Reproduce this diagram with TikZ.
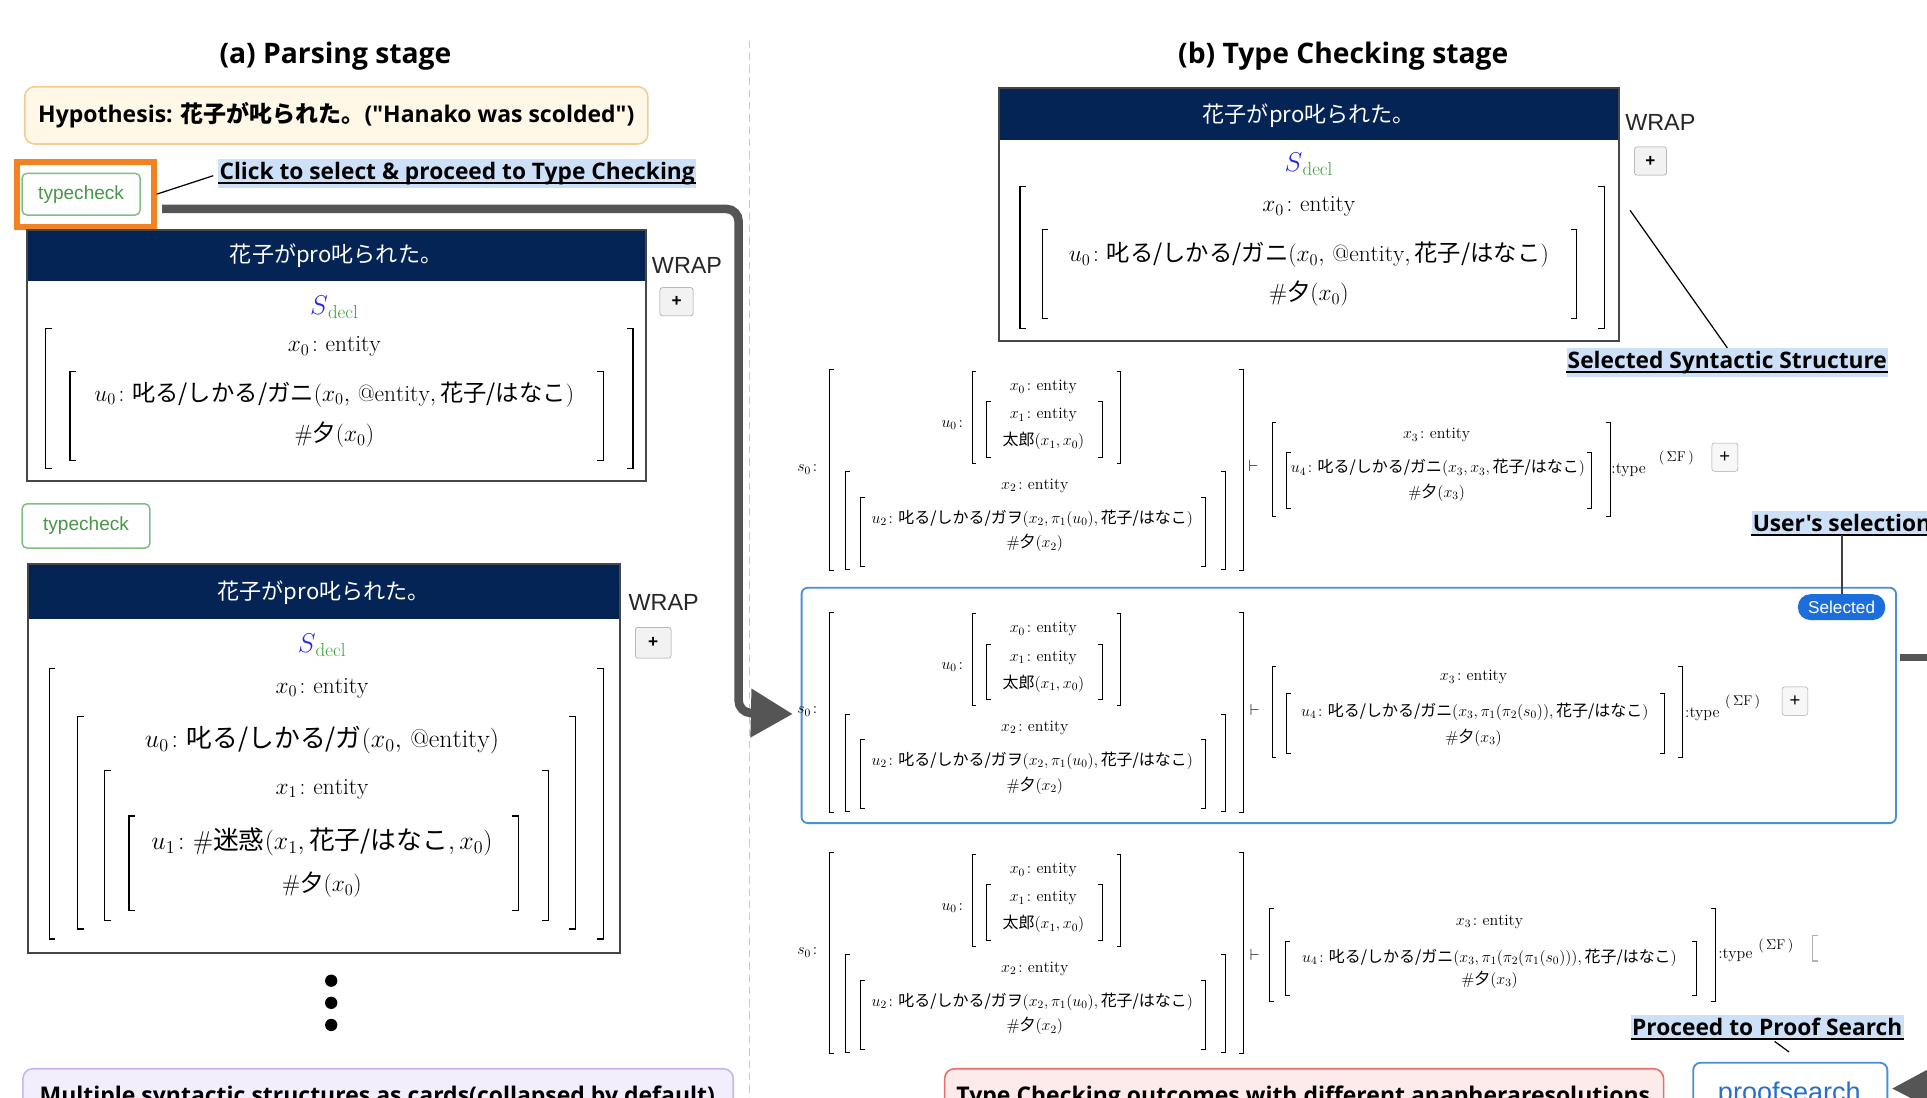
\RequirePackage{fix-cm}
\documentclass[tikz,border=0pt]{standalone}
\usepackage{amsmath}
\usepackage{fontspec}
\usetikzlibrary{arrows.meta}
\newfontfamily\jp{Noto Sans CJK JP}
\newfontfamily\osans{Open Sans}
\newfontfamily\arial{Liberation Sans}
\newcommand\JP[1]{\mbox{\jp #1}}
\definecolor{navy}{RGB}{4,36,86}
\definecolor{cardborder}{RGB}{70,70,70}
\definecolor{hl}{RGB}{204,224,247}
\definecolor{orng}{RGB}{245,130,32}
\definecolor{tcgreen}{RGB}{72,150,72}
\definecolor{tcborder}{RGB}{130,190,130}
\definecolor{arrowgray}{RGB}{85,85,85}
\definecolor{selblue}{RGB}{74,144,217}
\definecolor{pillblue}{RGB}{28,110,220}
\definecolor{psblue}{RGB}{40,110,205}
\definecolor{hypfill}{RGB}{255,248,231}
\definecolor{hypdraw}{RGB}{246,204,150}
\definecolor{purfill}{RGB}{243,238,252}
\definecolor{purdraw}{RGB}{198,182,240}
\definecolor{redfill}{RGB}{253,235,235}
\definecolor{reddraw}{RGB}{232,110,110}
\definecolor{sblue}{RGB}{40,40,235}
\definecolor{sgreen}{RGB}{50,160,50}
\tikzset{
 ttl/.style={font=\osans\bfseries\fontsize{23}{26}\selectfont, inner sep=0pt},
 lbl/.style={fill=hl, inner xsep=1pt, inner ysep=2.5pt, font=\osans\bfseries\fontsize{18.5}{21}\selectfont},
 leader/.style={draw=black, line width=1pt},
 cmath/.style={font=\fontsize{19}{21}\selectfont, inner sep=0pt},
 cmathb/.style={font=\fontsize{21}{23}\selectfont, inner sep=0pt},
 sdecl/.style={font=\fontsize{22}{24}\selectfont, inner sep=0pt},
 rmath/.style={font=\fontsize{13}{15}\selectfont, inner sep=0pt},
 rsup/.style={font=\fontsize{11.5}{13}\selectfont, inner sep=0pt},
 brk/.style={line width=1pt, draw=black},
 sbrk/.style={line width=0.7pt, draw=black},
 cardbox/.style={fill=white, inner sep=0pt, anchor=north west},
 cardline/.style={draw=cardborder, line width=1.6pt},
 hdr/.style={text=white, font=\jp\fontsize{18}{20}\selectfont, inner sep=0pt},
 wraplbl/.style={font=\arial\fontsize{19}{21}\selectfont, text=black!85, inner sep=0pt},
 plusb/.style={draw=black!40, fill=black!5, rounded corners=2pt, inner sep=0pt, font=\arial\bfseries\fontsize{14}{14}\selectfont},
 plusr/.style={draw=black!35, fill=black!3, rounded corners=2pt, inner sep=0pt, minimum width=21pt, minimum height=23pt, font=\arial\fontsize{15}{15}\selectfont},
 tcbtn/.style={draw=tcborder, line width=1.2pt, rounded corners=4pt, fill=white, text=tcgreen, font=\arial\fontsize{15.5}{17}\selectfont, inner sep=0pt},
 bigarrow/.style={draw=arrowgray, line width=7pt, rounded corners=10pt, -{Triangle[length=34pt,width=38pt]}},
 infobox/.style={rounded corners=8pt, line width=1.3pt, inner sep=0pt, anchor=north west},
 boxtext/.style={font=\osans\bfseries\fontsize{18.7}{21}\selectfont, inner sep=0pt},
}
\newcommand\cLB[3]{\draw[brk] (#1+5,#2) -- (#1,#2) -- (#1,#3) -- (#1+5,#3);}
\newcommand\cRB[3]{\draw[brk] (#1-5,#2) -- (#1,#2) -- (#1,#3) -- (#1-5,#3);}
\newcommand\sLB[3]{\draw[sbrk] (#1+3.5,#2) -- (#1,#2) -- (#1,#3) -- (#1+3.5,#3);}
\newcommand\sRB[3]{\draw[sbrk] (#1-3.5,#2) -- (#1,#2) -- (#1,#3) -- (#1-3.5,#3);}
\newcommand\undl[1]{\draw[line width=1.2pt] ([yshift=-3pt]#1.base west) -- ([yshift=-3pt]#1.base east);}
\newcommand\sdeclt{$\textcolor{sblue}{S}_{\textcolor{sgreen}{\mathrm{decl}}}$}
\newcommand\sigf{$(\,\Sigma\mathrm{F}\,)$}
% left part of a type checking row
\newcommand\rowleft[1]{%
  \node[rmath] (#1s) at (659,382) {$s_0\colon$};
  \sLB{675}{301}{464} \sRB{1012}{301}{464}
  \node[rmath] (#1u) at (777,346) {$u_0\colon$};
  \sLB{791}{302}{377} \sRB{912}{302}{377}
  \node[rmath] (#1xa) at (849,315) {$x_0\colon\mathrm{entity}$};
  \sLB{803}{327}{372} \sRB{897}{327}{372}
  \node[rmath] (#1xb) at (849,338) {$x_1\colon\mathrm{entity}$};
  \node[rmath] (#1t) at (849,359) {$\JP{太郎}(x_1,x_0)$};
  \sLB{688}{384}{463} \sRB{997}{384}{463}
  \node[rmath] (#1xc) at (842,395) {$x_2\colon\mathrm{entity}$};
  \sLB{700}{405}{461} \sRB{981}{405}{461}
  \node[rmath] (#1ua) at (840,422) {$u_2\colon\JP{叱る/しかる/ガヲ}(x_2,\pi_1(u_0),\JP{花子/はなこ})$};
  \node[rmath] (#1ya) at (842,442) {$\#\JP{夕}(x_2)$};
}
\begin{document}
\begin{tikzpicture}[x=1pt,y=-1pt]
\useasboundingbox (0,0) rectangle (1568,893);
\clip (0,0) rectangle (1568,893);
\fill[white] (0,0) rectangle (1568,893);

% divider
\draw[draw=black!22, line width=1pt, dash pattern=on 6pt off 4pt] (610,33) -- (610,893);

% titles
\node[ttl] (ta) at (273,46) {(a) Parsing stage};
\node[ttl] (tb) at (1093,46) {(b) Type Checking stage};

% hypothesis
\node[infobox, fill=hypfill, draw=hypdraw, minimum width=507pt, minimum height=46.5pt] (hyp) at (19.5,70) {};
\node[boxtext] (hyptxt) at (hyp.center) {Hypothesis: {\jp 花子が叱られた。}("Hanako was scolded")};

% typecheck 1 with orange frame
\node[tcbtn, minimum width=96pt, minimum height=34pt] (tc1) at (66,158) {typecheck};
\node[draw=orng, line width=5pt, minimum width=111pt, minimum height=53pt, inner sep=0pt] (oframe) at (69.5,158) {};
\node[lbl] (click) at (372,141) {Click to select \& proceed to Type Checking};
\undl{click}
\draw[leader] (oframe.east) -- ([xshift=-4pt,yshift=-2pt]click.west);

% card 1
\node[cardbox, minimum width=503pt, minimum height=204pt] (card1) at (22,187) {};
\fill[navy] (card1.north west) rectangle ([yshift=-42pt]card1.north east);
\draw[cardline] (card1.north west) rectangle (card1.south east);
\node[hdr] (h1) at (273.5,208) {花子がpro叱られた。};
\node[sdecl] (sd1) at (272,250) {\sdeclt};
\cLB{37}{267}{381} \cRB{515}{267}{381}
\node[cmath] (c1a) at (272,282) {$x_0\colon\mathrm{entity}$};
\cLB{57}{302}{375} \cRB{491}{302}{375}
\node[cmath] (c1b) at (272,321) {$u_0\colon\JP{叱る/しかる/ガニ}(x_0,\,@\mathrm{entity},\JP{花子/はなこ})$};
\node[cmath] (c1c) at (272,354) {$\#\JP{夕}(x_0)$};
\node[wraplbl] (w1) at (559,216) {WRAP};
\node[plusb, minimum width=27pt, minimum height=23pt] (p1) at (550.5,245.5) {+};

% typecheck 2 and card 2
\node[tcbtn, minimum width=104pt, minimum height=36pt] (tc2) at (70,428) {typecheck};
\node[cardbox, minimum width=481pt, minimum height=316pt] (card2) at (23,459) {};
\fill[navy] (card2.north west) rectangle ([yshift=-45pt]card2.north east);
\draw[cardline] (card2.north west) rectangle (card2.south east);
\node[hdr] (h2) at (263.5,482) {花子がpro叱られた。};
\node[sdecl] (sd2) at (262,525) {\sdeclt};
\cLB{40}{544}{764} \cRB{491}{544}{764}
\node[cmath] (c2a) at (262,560) {$x_0\colon\mathrm{entity}$};
\cLB{63}{583}{756} \cRB{468}{583}{756}
\node[cmathb] (c2b) at (262,602) {$u_0\colon\JP{叱る/しかる/ガ}(x_0,\,@\mathrm{entity})$};
\cLB{85}{627}{749} \cRB{446}{627}{749}
\node[cmath] (c2c) at (262,642) {$x_1\colon\mathrm{entity}$};
\cLB{105}{664}{741} \cRB{422}{664}{741}
\node[cmathb] (c2d) at (262,685) {$u_1\colon\#\JP{迷惑}(x_1,\JP{花子/はなこ},x_0)$};
\node[cmath] (c2e) at (262,720) {$\#\JP{夕}(x_0)$};
\node[wraplbl] (w2) at (540,490) {WRAP};
\node[plusb, minimum width=29pt, minimum height=25pt] (p2) at (531.5,523) {+};

% dots
\fill (269.5,798) circle[radius=5pt];
\fill (269.5,816) circle[radius=5pt];
\fill (269.5,834) circle[radius=5pt];

% bottom left box
\node[infobox, fill=purfill, draw=purdraw, minimum width=578pt, minimum height=60pt] (multi) at (18,869) {};
\node[boxtext, anchor=base] (multitxt) at (307,898) {Multiple syntactic structures as cards(collapsed by default)};

% right card
\node[cardbox, minimum width=504pt, minimum height=205pt] (cardR) at (813,72) {};
\fill[navy] (cardR.north west) rectangle ([yshift=-42pt]cardR.north east);
\draw[cardline] (cardR.north west) rectangle (cardR.south east);
\node[hdr] (hR) at (1065,94) {花子がpro叱られた。};
\node[sdecl] (sdR) at (1065,134) {\sdeclt};
\cLB{830}{152}{267} \cRB{1305.5}{152}{267}
\node[cmath] (cRa) at (1065,168) {$x_0\colon\mathrm{entity}$};
\cLB{848}{187}{259} \cRB{1283}{187}{259}
\node[cmath] (cRb) at (1065,207.5) {$u_0\colon\JP{叱る/しかる/ガニ}(x_0,\,@\mathrm{entity},\JP{花子/はなこ})$};
\node[cmath] (cRc) at (1065,239) {$\#\JP{夕}(x_0)$};
\node[wraplbl] (wR) at (1351,100) {WRAP};
\node[plusb, minimum width=26pt, minimum height=23pt] (pR) at (1343,131) {+};
\node[lbl] (sel) at (1405.5,295) {Selected Syntactic Structure};
\undl{sel}
\draw[leader] ([xshift=9pt,yshift=3.5pt]cardR.east) -- (sel.north);

% row 1
\rowleft{ra}
\node[rmath] (ravd) at (1020,379) {$\vdash$};
\sLB{1035}{344}{420} \sRB{1310}{344}{420}
\node[rmath] (rax) at (1169,354) {$x_3\colon\mathrm{entity}$};
\sLB{1047}{368}{414} \sRB{1295}{368}{414}
\node[rmath] (rau) at (1170,381) {$u_4\colon\JP{叱る/しかる/ガニ}(x_3,x_3,\JP{花子/はなこ})$};
\node[rmath] (ray) at (1169,401) {$\#\JP{夕}(x_3)$};
\node[rmath, anchor=west] (rat) at (1311,383) {:type};
\node[rsup] (raf) at (1364,373) {\sigf};
\node[plusr] (rap) at (1403.5,372) {+};

% row 2 (selected)
\node[draw=selblue, line width=1.5pt, rounded corners=5pt, minimum width=890.5pt, minimum height=191.5pt, inner sep=0pt, anchor=north west] (selbox) at (651.5,477.5) {};
\begin{scope}[shift={(0,197)}]
\rowleft{rb}
\end{scope}
\node[rmath] (rbvd) at (1021,578) {$\vdash$};
\sLB{1035}{542}{616} \sRB{1369}{542}{616}
\node[rmath] (rbx) at (1199,551) {$x_3\colon\mathrm{entity}$};
\sLB{1047}{564}{613} \sRB{1354}{564}{613}
\node[rmath] (rbu) at (1200,579) {$u_4\colon\JP{叱る/しかる/ガニ}(x_3,\pi_1(\pi_2(s_0)),\JP{花子/はなこ})$};
\node[rmath] (rby) at (1199,600) {$\#\JP{夕}(x_3)$};
\node[rmath, anchor=west] (rbt) at (1371,581) {:type};
\node[rsup] (rbf) at (1418,571) {\sigf};
\node[plusr] (rbp) at (1460.5,570.5) {+};
\node[fill=pillblue, text=white, rounded corners=10pt, minimum width=71pt, minimum height=21pt, inner sep=0pt, font=\arial\fontsize{14}{14}\selectfont] (pill) at (1498.5,494) {Selected};
\node[lbl, anchor=west] (user) at (1425,425.5) {User's selection};
\undl{user}
\draw[draw=black!75, line width=1.5pt] (user.south -| pill.north) -- (pill.north);
\draw[draw=arrowgray, line width=6pt] ([xshift=2.5pt,yshift=39pt]selbox.east) -- ++(40,0);

% row 3
\begin{scope}[shift={(0,393)}]
\rowleft{rc}
\end{scope}
\node[rmath] (rcvd) at (1021,777) {$\vdash$};
\sLB{1033}{739}{815} \sRB{1396}{739}{815}
\node[rmath] (rcx) at (1212,750) {$x_3\colon\mathrm{entity}$};
\sLB{1046}{766}{810} \sRB{1380}{766}{810}
\node[rmath] (rcu) at (1212,779) {$u_4\colon\JP{叱る/しかる/ガニ}(x_3,\pi_1(\pi_2(\pi_1(s_0))),\JP{花子/はなこ})$};
\node[rmath] (rcy) at (1212,797) {$\#\JP{夕}(x_3)$};
\node[rmath, anchor=west] (rct) at (1398,777) {:type};
\node[rsup] (rcf) at (1445,770) {\sigf};
\draw[draw=black!30, line width=1pt] (1479,761) -- (1475,761) -- (1475,782) -- (1479,782);

% proof search
\node[lbl] (proc) at (1438,835.5) {Proceed to Proof Search};
\undl{proc}
\node[draw=selblue, line width=1.5pt, rounded corners=6pt, fill=white, minimum width=158pt, minimum height=51pt, inner sep=0pt, anchor=north west] (ps) at (1377,864) {};
\node[font=\arial\fontsize{22}{24}\selectfont, text=psblue, anchor=base, inner sep=0pt] (pstxt) at (1456,896) {proofsearch};
\draw[leader] ([xshift=6pt,yshift=-2pt]proc.south) -- ([xshift=-1pt,yshift=8pt]ps.north);
\coordinate (psIn) at (1620,885);
\draw[draw=arrowgray, line width=6pt, -{Triangle[length=36pt,width=36pt]}] (psIn) -- ([xshift=3pt,yshift=4.5pt]ps.east);

% bottom right box
\node[infobox, fill=redfill, draw=reddraw, minimum width=585pt, minimum height=60pt] (outc) at (768,869) {};
\node[boxtext, anchor=base] (outctxt) at (1060.5,898) {Type Checking outcomes with different anapheraresolutions};

% main arrow
\coordinate (arrS) at (132,170);
\coordinate (arrE) at ([xshift=-6.5pt,yshift=-7pt]selbox.west);
\draw[bigarrow] (arrS) -- (601,170) -- (601,580) -- (arrE);
\end{tikzpicture}
\end{document}
